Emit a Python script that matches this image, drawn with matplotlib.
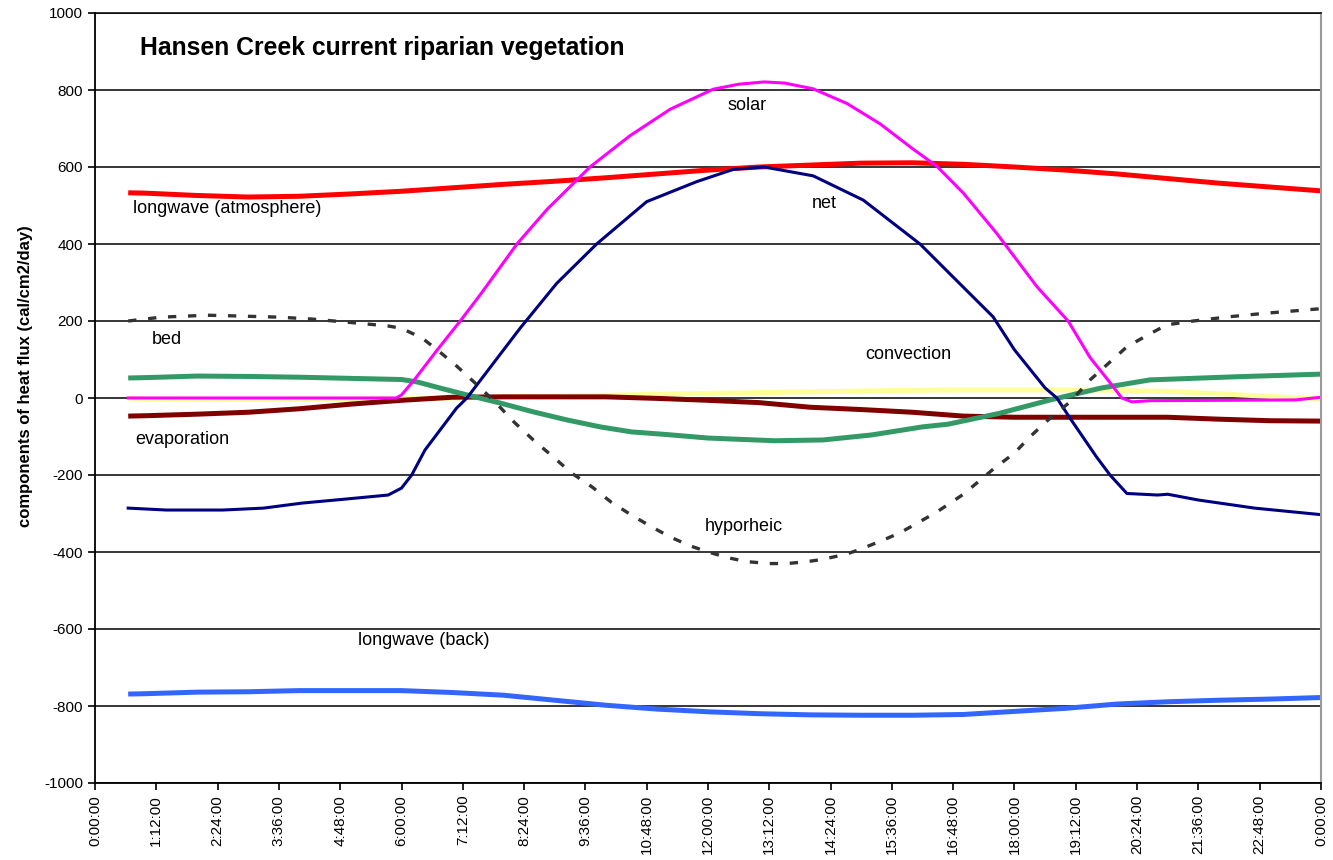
import matplotlib
matplotlib.use("Agg")
import matplotlib.pyplot as plt
from matplotlib.ticker import FixedLocator

plt.rcParams['font.family'] = ['Liberation Sans', 'DejaVu Sans']
plt.rcParams['axes.unicode_minus'] = False

# ---- data (hours of day, cal/cm2/day) ----
lw_atm_t = [0.65, 1, 2, 3, 4, 5, 6, 7, 8, 9, 10, 11, 12, 13, 14, 15, 16, 17, 18, 19, 20, 21, 22, 23, 24]
lw_atm_v = [533, 532, 526, 522, 524, 530, 537, 546, 555, 563, 572, 582, 592, 600, 605, 610, 611, 607, 600, 592, 582, 570, 558, 548, 538]

lw_back_t = [0.65, 1, 2, 3, 4, 5, 6, 7, 8, 9, 10, 11, 12, 13, 14, 15, 16, 17, 18, 19, 20, 21, 22, 23, 24]
lw_back_v = [-769, -768, -764, -763, -760, -760, -760, -765, -772, -785, -798, -808, -815, -820, -823, -824, -824, -822, -814, -806, -795, -789, -785, -782, -778]

solar_t = [0.65, 5.9, 6.0, 6.25, 6.7, 7.15, 7.54, 8.26, 8.85, 9.69, 10.47, 11.26, 12.1, 12.6, 13.1, 13.5,
           14.06, 14.72, 15.37, 16.0, 16.48, 17.0, 17.65, 18.44, 19.05, 19.48, 19.87, 20.1, 20.3,
           20.65, 23.5, 24]
solar_v = [0, 0, 8, 47, 125, 200, 268, 400, 490, 600, 681, 750, 802, 815, 821, 818,
           803, 765, 712, 648, 602, 532, 428, 289, 200, 105, 40, 0, -10,
           -7, -5, 2]

net_t = [0.65, 1.4, 2.5, 3.3, 4.05, 4.95, 5.74, 6.0, 6.2, 6.46, 7.08, 7.28, 8.32, 9.04, 9.82, 10.8, 11.78,
         12.5, 13.1, 14.06, 15.04, 16.15, 16.8, 17.58, 18.0, 18.6, 18.83, 19.09, 19.6, 19.87, 20.2, 20.8,
         21.0, 21.6, 22.7, 24]
net_v = [-286, -291, -291, -286, -273, -262, -252, -234, -200, -135, -26, 0, 181, 298, 400, 510, 562,
         594, 600, 577, 514, 400, 314, 211, 125, 26, 0, -53, -152, -200, -248, -252,
         -250, -265, -286, -303]

hypo_t = [0.65, 1.3, 2.2, 2.8, 3.6, 4.25, 5.1, 5.74, 6.0, 6.4, 6.7, 7.08, 7.44, 7.83, 8.2, 8.58, 8.97, 9.33,
          9.73, 10.1, 10.5, 10.9, 11.26, 11.65, 12.0, 12.43, 12.76, 13.2, 13.55, 13.94, 14.25, 14.72, 14.98,
          15.43, 15.76, 16.15, 16.48, 17.0, 17.6, 18.0, 18.3, 18.7, 19.09, 19.48, 19.84, 20.2, 20.6, 20.98,
          21.5, 22.2, 22.9, 24]
hypo_v = [200, 210, 215, 213, 210, 205, 195, 187, 181, 156, 125, 83, 39, -10, -62, -109, -153, -195,
          -231, -270, -304, -335, -361, -384, -400, -416, -425, -430, -430, -425, -419, -405, -393,
          -369, -350, -321, -296, -250, -183, -143, -101, -52, -10, 47, 90, 133, 163, 190,
          200, 211, 220, 232]

bed_t = [0.65, 1, 2, 3, 4, 5, 6, 6.3, 6.75, 7.28, 7.93, 8.58, 9.24, 9.89, 10.5, 11.2, 12, 13.3, 14.25,
         15.2, 16.2, 16.7, 17.7, 18.7, 19.7, 20.65, 22.3, 24]
bed_v = [52, 53, 57, 56, 54, 51, 48, 42, 26, 8, -13, -36, -57, -75, -88, -95, -104, -111, -109,
         -96, -75, -68, -40, -5, 26, 47, 55, 62]

conv_t = [0.65, 1, 3, 5, 6, 7, 8, 9, 10, 11, 12, 13, 14, 15, 16, 17, 18, 19, 20, 21, 22, 23, 24]
conv_v = [0, -3, -4, -3, -2, 0, 3, 5, 7, 10, 12, 14, 16, 18, 20, 21, 21, 21, 20, 17, 11, 4, -3]

evap_t = [0.65, 1, 2, 3, 4, 5, 6, 7, 8, 9, 10, 11, 12, 13, 14, 15, 16, 17, 18, 19, 20, 21, 22, 23, 24]
evap_v = [-47, -46, -42, -37, -28, -16, -6, 2, 3, 3, 3, -1, -6, -12, -24, -30, -37, -47, -50, -50, -50, -50, -55, -59, -60]

tick_hours = [i * 1.2 for i in range(21)]
tick_labels = ['0:00:00', '1:12:00', '2:24:00', '3:36:00', '4:48:00', '6:00:00', '7:12:00', '8:24:00',
               '9:36:00', '10:48:00', '12:00:00', '13:12:00', '14:24:00', '15:36:00', '16:48:00',
               '18:00:00', '19:12:00', '20:24:00', '21:36:00', '22:48:00', '0:00:00']
y_ticks = list(range(-1000, 1001, 200))

title = 'Hansen Creek current riparian vegetation'
ylabel = 'components of heat flux (cal/cm2/day)'
annotations = [('solar', 12.39, 761), ('longwave (atmosphere)', 0.74, 491), ('net', 14.04, 504),
               ('bed', 1.12, 151), ('convection', 15.07, 114), ('evaporation', 0.78, -109),
               ('hyporheic', 11.94, -335), ('longwave (back)', 5.15, -631)]

# ---- figure ----
fig = plt.figure(figsize=(13.33, 8.6), dpi=100)
ax = fig.add_axes([95 / 1333, 77 / 860, 1226 / 1333, 770 / 860])

ax.set_xlim(0, 24)
ax.set_ylim(-1000, 1000)
ax.yaxis.set_major_locator(FixedLocator(y_ticks))
ax.set_xticks(tick_hours)
ax.set_xticklabels(tick_labels, rotation=90, fontsize=11)
ax.tick_params(axis='y', labelsize=11, length=5, width=1.2, direction='out')
ax.tick_params(axis='x', length=5, width=1.2, direction='out')
ax.grid(axis='y', color='black', linewidth=1.1)
ax.set_axisbelow(True)
for s in ['left', 'bottom']:
    ax.spines[s].set_color('black')
    ax.spines[s].set_linewidth(1.3)
ax.spines['top'].set_color('black')
ax.spines['top'].set_linewidth(1.1)
ax.spines['right'].set_color('#999999')
ax.spines['right'].set_linewidth(1.5)

ax.plot(conv_t, conv_v, color='#FFFF99', lw=3.6, solid_capstyle='butt')
ax.plot(evap_t, evap_v, color='#800000', lw=3.6, solid_capstyle='butt')
ax.plot(bed_t, bed_v, color='#339966', lw=3.6, solid_capstyle='butt')
ax.plot(lw_atm_t, lw_atm_v, color='#FF0000', lw=3.6, solid_capstyle='butt')
ax.plot(lw_back_t, lw_back_v, color='#3366FF', lw=3.6, solid_capstyle='butt')
ax.plot(solar_t, solar_v, color='#FF00FF', lw=2.2)
ax.plot(net_t, net_v, color='#000080', lw=2.2)
ax.plot(hypo_t, hypo_v, color='#333333', lw=2.4, linestyle=(0, (2.5, 3.5)))

ax.text(0.88, 909, title, fontsize=17.8, fontweight='bold', ha='left', va='center')
for txt, tx, ty in annotations:
    ax.text(tx, ty, txt, fontsize=13, ha='left', va='center')

ax.set_ylabel(ylabel, fontsize=12, fontweight='bold')
ax.yaxis.set_label_coords(-0.0506, 0.528)

fig.savefig('out.png', dpi=100)
